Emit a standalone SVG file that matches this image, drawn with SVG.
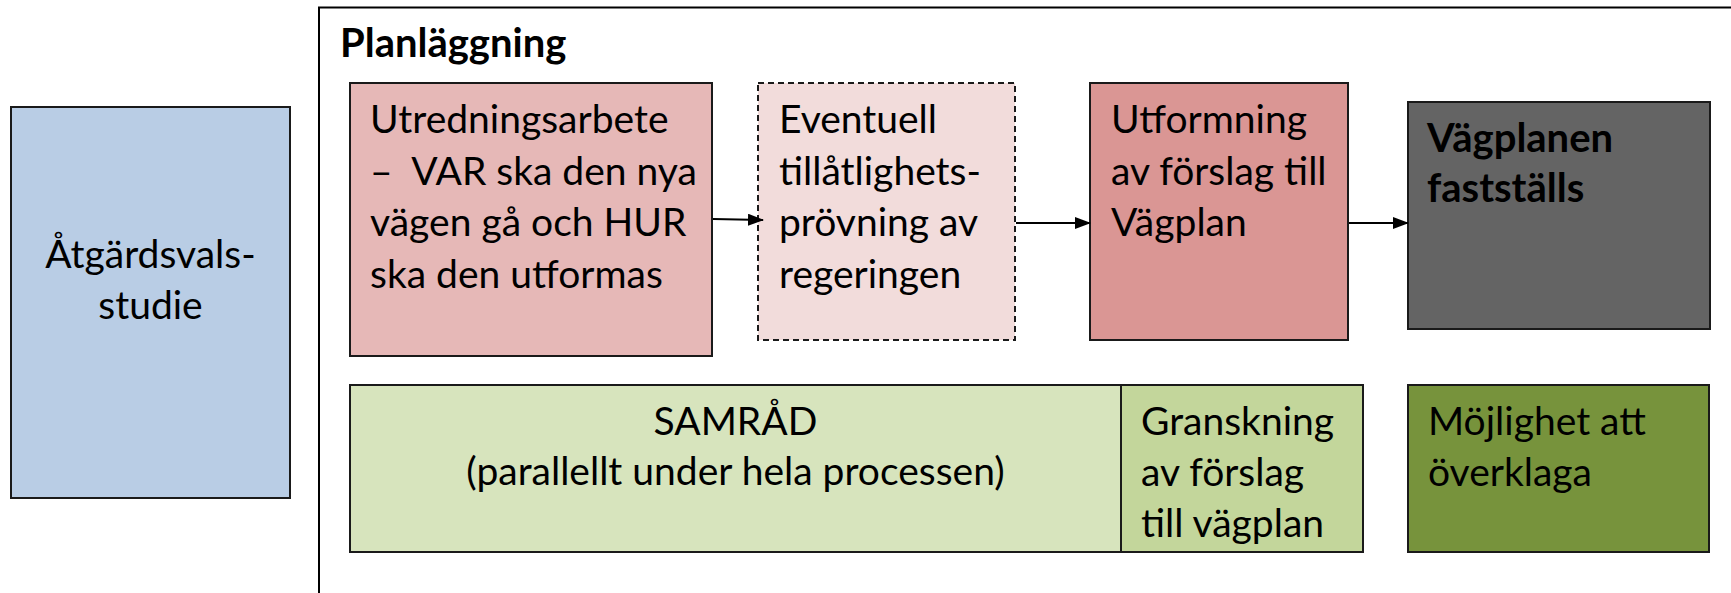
<svg xmlns="http://www.w3.org/2000/svg" width="1731" height="593" viewBox="0 0 1731 593">
<style>
  text { font-family: Lato, "Open Sans", "Liberation Sans", sans-serif; font-size: 39px; fill: #000; }
  .b { font-weight: bold; font-size: 40px; }
  .box { stroke: #1a1a1a; stroke-width: 2; }
  .c { text-anchor: middle; }
  .conn { stroke: #000; stroke-width: 2; fill: none; marker-end: url(#ah); }
</style>
<defs>
  <marker id="ah" markerWidth="16" markerHeight="12" refX="15" refY="6" orient="auto" markerUnits="userSpaceOnUse">
    <path d="M0,0 L16,6 L0,12 Z" fill="#000"/>
  </marker>
</defs>
<rect width="1731" height="593" fill="#fff"/>
<g id="frame">
  <rect x="319" y="7.5" width="1440" height="620" fill="none" stroke="#000" stroke-width="2"/>
  <text class="b" x="340" y="57">Planläggning</text>
</g>
<g id="atgardsval">
  <rect class="box" x="11" y="107" width="279" height="391" fill="#B9CDE5"/>
  <text class="c" x="150.5" y="268">Åtgärdsvals-</text>
  <text class="c" x="150.5" y="319">studie</text>
</g>
<g id="utredning">
  <rect class="box" x="350" y="83" width="362" height="273" fill="#E6B8B7"/>
  <text x="370" y="133">Utredningsarbete</text>
  <text x="370" y="184.5" xml:space="preserve">–  VAR ska den nya</text>
  <text x="370" y="236">vägen gå och HUR</text>
  <text x="370" y="288">ska den utformas</text>
</g>
<g id="tillatlighet">
  <rect x="758" y="83" width="257" height="257" fill="#F2DCDB" stroke="#1a1a1a" stroke-width="2" stroke-dasharray="6,4"/>
  <text x="779" y="133">Eventuell</text>
  <text x="779" y="184.5">tillåtlighets-</text>
  <text x="779" y="236">prövning av</text>
  <text x="779" y="288">regeringen</text>
</g>
<g id="utformning">
  <rect class="box" x="1090" y="83" width="258" height="257" fill="#DA9694"/>
  <text x="1111" y="133">Utformning</text>
  <text x="1111" y="184.5">av förslag till</text>
  <text x="1111" y="236">Vägplan</text>
</g>
<g id="faststalls">
  <rect class="box" x="1408" y="102" width="302" height="227" fill="#646464"/>
  <text class="b" x="1427" y="152">Vägplanen</text>
  <text class="b" x="1427" y="202">fastställs</text>
</g>
<g id="samrad">
  <rect class="box" x="350" y="385" width="771" height="167" fill="#D7E4BD"/>
  <text class="c" x="735.5" y="435">SAMRÅD</text>
  <text class="c" x="735.5" y="485">(parallellt under hela processen)</text>
</g>
<g id="granskning">
  <rect class="box" x="1121" y="385" width="242" height="167" fill="#C3D69B"/>
  <text x="1141" y="435">Granskning</text>
  <text x="1141" y="486">av förslag</text>
  <text x="1141" y="537">till vägplan</text>
</g>
<g id="overklaga">
  <rect class="box" x="1408" y="385" width="301" height="167" fill="#77933C"/>
  <text x="1428" y="435">Möjlighet att</text>
  <text x="1428" y="486">överklaga</text>
</g>
<g id="connectors">
  <line class="conn" x1="713" y1="219" x2="763" y2="220"/>
  <line class="conn" x1="1016" y1="223" x2="1090" y2="223"/>
  <line class="conn" x1="1349" y1="223" x2="1408" y2="223"/>
</g>
</svg>
